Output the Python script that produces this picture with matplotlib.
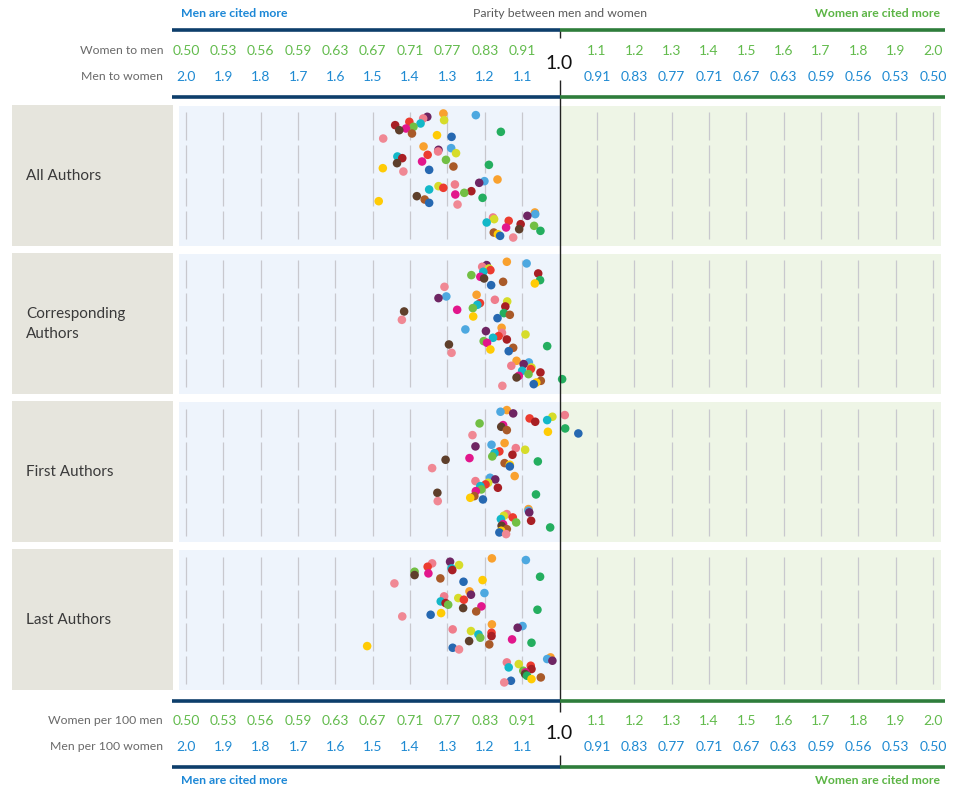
import numpy as np
import matplotlib.pyplot as plt
from matplotlib.lines import Line2D
from matplotlib.patches import Rectangle
from matplotlib.transforms import blended_transform_factory

plt.rcParams['font.family'] = ['Lato', 'DejaVu Sans']

W, H = 963, 791

panels = ["All Authors", "Corresponding\nAuthors", "First Authors", "Last Authors"]
rows = ["A", "B", "C", "D"]

# 16 groups, always stacked in this order inside a row
group_colors = ["#F9A12E", "#4DA8E0", "#6E2563", "#EF7D8C",
                "#D6DC2A", "#EC3B2F", "#13B8C8", "#A81F24",
                "#72BF44", "#E2168C", "#5E3F2B", "#24AE5F",
                "#A95A29", "#FFCB05", "#2668B1", "#F08894"]

# men-to-women citation ratio, one list of 16 groups per row A-D
all_authors = [
    [1.311, 1.224, 1.354, 1.365, 1.309, 1.402, 1.372, 1.440, 1.391, 1.411, 1.429, 1.157, 1.395, 1.328, 1.289, 1.472],
    [1.364, 1.290, 1.324, 1.325, 1.277, 1.353, 1.434, 1.421, 1.304, 1.368, 1.435, 1.189, 1.284, 1.473, 1.349, 1.418],
    [1.166, 1.201, 1.215, 1.280, 1.324, 1.311, 1.349, 1.236, 1.255, 1.279, 1.382, 1.206, 1.361, 1.484, 1.349, 1.273],
    [1.066, 1.065, 1.086, 1.178, 1.175, 1.136, 1.195, 1.104, 1.068, 1.143, 1.108, 1.051, 1.176, 1.165, 1.159, 1.124],
]
corresponding_authors = [
    [1.141, 1.088, 1.195, 1.207, 1.189, 1.185, 1.204, 1.057, 1.236, 1.212, 1.202, 1.052, 1.151, 1.066, 1.183, 1.308],
    [1.222, 1.303, 1.324, 1.173, 1.140, 1.213, 1.220, 1.145, 1.232, 1.274, 1.416, 1.149, 1.133, 1.231, 1.166, 1.422],
    [1.155, 1.252, 1.197, 1.154, 1.091, 1.163, 1.178, 1.141, 1.203, 1.194, 1.296, 1.033, 1.124, 1.185, 1.136, 1.289],
    [1.115, 1.082, 1.096, 1.129, 1.075, 1.077, 1.100, 1.051, 1.083, 1.109, 1.115, 0.993, 1.050, 1.062, 1.069, 1.153],
]
first_authors = [
    [1.141, 1.158, 1.124, 0.986, 1.019, 1.080, 1.033, 1.065, 1.214, 1.151, 1.156, 0.985, 1.141, 1.031, 0.952, 1.233],
    [1.147, 1.182, 1.225, 1.117, 1.092, 1.161, 1.174, 1.126, 1.180, 1.241, 1.305, 1.058, 1.147, 1.133, 1.133, 1.341],
    [1.120, 1.186, 1.172, 1.225, 1.191, 1.198, 1.212, 1.165, 1.209, 1.224, 1.327, 1.063, 1.228, 1.239, 1.205, 1.326],
    [1.083, 1.083, 1.081, 1.141, 1.149, 1.125, 1.157, 1.076, 1.116, 1.151, 1.155, 1.025, 1.141, 1.156, 1.161, 1.143],
]
last_authors = [
    [1.181, 1.090, 1.293, 1.341, 1.269, 1.353, 1.289, 1.287, 1.388, 1.351, 1.388, 1.052, 1.319, 1.206, 1.257, 1.442],
    [1.241, 1.201, 1.237, 1.309, 1.271, 1.256, 1.318, 1.305, 1.298, 1.209, 1.258, 1.059, 1.223, 1.317, 1.345, 1.421],
    [1.181, 1.099, 1.112, 1.286, 1.237, 1.182, 1.217, 1.182, 1.212, 1.127, 1.242, 1.075, 1.188, 1.515, 1.286, 1.269],
    [1.024, 1.033, 1.019, 1.141, 1.109, 1.077, 1.136, 1.075, 1.097, 1.091, 1.092, 1.087, 1.050, 1.075, 1.130, 1.148],
]
panel_values = [all_authors, corresponding_authors, first_authors, last_authors]

# scale steps: men-to-women on the left half, women-to-men on the right half
left_steps = [2.0, 1.9, 1.8, 1.7, 1.6, 1.5, 1.4, 1.3, 1.2, 1.1]
right_steps = [1.1, 1.2, 1.3, 1.4, 1.5, 1.6, 1.7, 1.8, 1.9, 2.0]
women_left_labels = ["0.50", "0.53", "0.56", "0.59", "0.63", "0.67", "0.71", "0.77", "0.83", "0.91"]
men_left_labels = ["2.0", "1.9", "1.8", "1.7", "1.6", "1.5", "1.4", "1.3", "1.2", "1.1"]
women_right_labels = ["1.1", "1.2", "1.3", "1.4", "1.5", "1.6", "1.7", "1.8", "1.9", "2.0"]
men_right_labels = ["0.91", "0.83", "0.77", "0.71", "0.67", "0.63", "0.59", "0.56", "0.53", "0.50"]

BLUE_BG, GREEN_BG, GRAY_BG = "#EEF4FC", "#EEF5E6", "#E6E5DD"
NAVY, DKGREEN = "#0D3E6B", "#2E7D3B"
BLUE_TXT, GREEN_TXT = "#1F8AD2", "#62BB4C"


def fold(r):
    # ratio -> symmetric axis: 2.0 and 1/2.0 sit at equal distance from 1.0
    r = np.asarray(r, dtype=float)
    with np.errstate(divide='ignore', invalid='ignore'):
        return np.where(r >= 1, r - 1, 1 - 1 / r)


def unfold(u):
    u = np.asarray(u, dtype=float)
    with np.errstate(divide='ignore', invalid='ignore'):
        return np.where(u >= 0, u + 1, 1 / (1 - u))


PX_MID, PX_HALF = 559.5, 373.5


def px_ratio(px):
    return float(unfold((px - PX_MID) / PX_HALF))


def fx(px):
    return px / W


def fy(py):
    return 1 - py / H


fig = plt.figure(figsize=(W / 100, H / 100), dpi=100)

tick_pos = [1 / m for m in left_steps] + right_steps
offsets = (np.arange(len(group_colors)) - 7.5) * 0.0506

for p, (name, data) in enumerate(zip(panels, panel_values)):
    top = 105.5 + 148.3 * p
    fig.add_artist(Rectangle((fx(12), fy(top + 140)), fx(160.5), 141 / H,
                             transform=fig.transFigure, color=GRAY_BG, lw=0))
    fig.text(fx(26), fy(top + 70), name, ha='left', va='center',
             fontsize=11, color='#3a3a3a', linespacing=1.55)

    ax = fig.add_axes([fx(179), fy(top + 140), fx(762), 140 / H])
    ax.set_xscale('function', functions=(fold, unfold))
    ax.set_xlim(px_ratio(179), px_ratio(941))
    ax.set_ylim(3.621, -0.621)
    ax.axis('off')
    ax.axvspan(px_ratio(179), 1.0, color=BLUE_BG, lw=0, zorder=0)
    ax.axvspan(1.0, px_ratio(941), color=GREEN_BG, lw=0, zorder=0)

    lbl = blended_transform_factory(fig.transFigure, ax.transData)
    for k, vals in enumerate(data):
        ax.vlines(tick_pos, k - 0.424, k + 0.424, color='#C8C8CE', lw=0.9, zorder=1)
        ax.scatter(1 / np.array(vals), k + offsets, s=38, c=group_colors,
                   linewidths=0, zorder=3)
        ax.text(fx(160), k, rows[k], transform=lbl, ha='center', va='center',
                fontsize=7, color='#9a9a9a')

# header / footer scales share the same folded x axis
ov = fig.add_axes([0, 0, 1, 1])
ov.set_xscale('function', functions=(fold, unfold))
ov.set_xlim(px_ratio(0), px_ratio(W))
ov.set_ylim(H, 0)
ov.axis('off')

left_pos = [1 / m for m in left_steps]
for y_w, y_m, w_name, m_name in [(50.7, 77.0, "Women to men", "Men to women"),
                                 (720.7, 746.7, "Women per 100 men", "Men per 100 women")]:
    for x, lab in zip(left_pos, women_left_labels):
        ov.text(x, y_w, lab, ha='center', va='center', fontsize=10, color=GREEN_TXT)
    for x, lab in zip(right_steps, women_right_labels):
        ov.text(x, y_w, lab, ha='center', va='center', fontsize=10, color=GREEN_TXT)
    for x, lab in zip(left_pos, men_left_labels):
        ov.text(x, y_m, lab, ha='center', va='center', fontsize=10, color=BLUE_TXT)
    for x, lab in zip(right_steps, men_right_labels):
        ov.text(x, y_m, lab, ha='center', va='center', fontsize=10, color=BLUE_TXT)
    ov.text(1.0, (y_w + y_m) / 2, "1.0", ha='center', va='center', fontsize=14, color='#111111')
    fig.text(fx(163), fy(y_w), w_name, ha='right', va='center', fontsize=8.8, color='#6a6a6a')
    fig.text(fx(163), fy(y_m), m_name, ha='right', va='center', fontsize=8.8, color='#6a6a6a')

# parity line, broken around the 1.0 labels
ov.vlines([1.0, 1.0, 1.0], [30, 80, 755], [38, 712, 768], color='#222222', lw=1.0, zorder=5)

for yb in [29.8, 96.8, 700.8, 767.3]:
    fig.add_artist(Line2D([fx(172), fx(559.5)], [fy(yb)] * 2, lw=2.6, color=NAVY,
                          solid_capstyle='butt'))
    fig.add_artist(Line2D([fx(559.5), fx(945)], [fy(yb)] * 2, lw=2.6, color=DKGREEN,
                          solid_capstyle='butt'))

for yt in [13.5, 780.5]:
    fig.text(fx(181), fy(yt), "Men are cited more", ha='left', va='center',
             fontsize=8.8, fontweight='bold', color='#1B87D6')
    fig.text(fx(940), fy(yt), "Women are cited more", ha='right', va='center',
             fontsize=8.8, fontweight='bold', color='#5CB545')
fig.text(fx(559.5), fy(13.5), "Parity between men and women", ha='center', va='center',
         fontsize=8.8, color='#5a5a5a')

fig.savefig("out.png", dpi=100)
